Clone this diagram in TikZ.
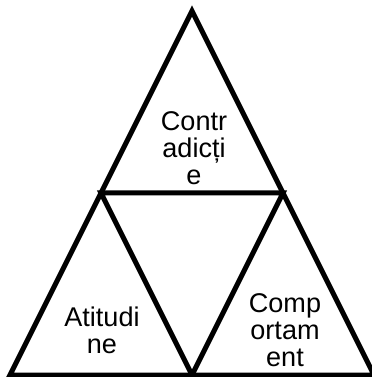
\documentclass[tikz,border=0pt]{standalone}
\usepackage{fontspec}
\setmainfont{Liberation Sans}
\usepackage{tikz}
\usetikzlibrary{calc}

\begin{document}
\begin{tikzpicture}[x=0.75pt,y=-0.75pt]

%
% Styles
%
\tikzstyle{side}  = [draw=black,line width=3.75pt,miter limit=10]
\tikzstyle{label} = [align=center,inner sep=0pt,font=\fontsize{20.3}{20.2}\selectfont]

\useasboundingbox (0,0) rectangle (371,377);

\coordinate (top)   at (192,11);
\coordinate (left)  at (10,375);
\coordinate (right) at (374,375);
\coordinate (ml)    at ($(top)!0.5!(left)$);
\coordinate (mr)    at ($(top)!0.5!(right)$);
\coordinate (mb)    at ($(left)!0.5!(right)$);

\draw[side] (top) -- (left) -- (right) -- cycle;
\draw[side] (ml) -- (mr) -- (mb) -- cycle;

\node[label] (contradictie) at (194,148) {Contr\\adicți\\e};
\node[label] (atitudine)    at (102,330) {Atitudi\\ne};
\node[label] (comportament) at (285,330) {Comp\\ortam\\ent};

\end{tikzpicture}
\end{document}
